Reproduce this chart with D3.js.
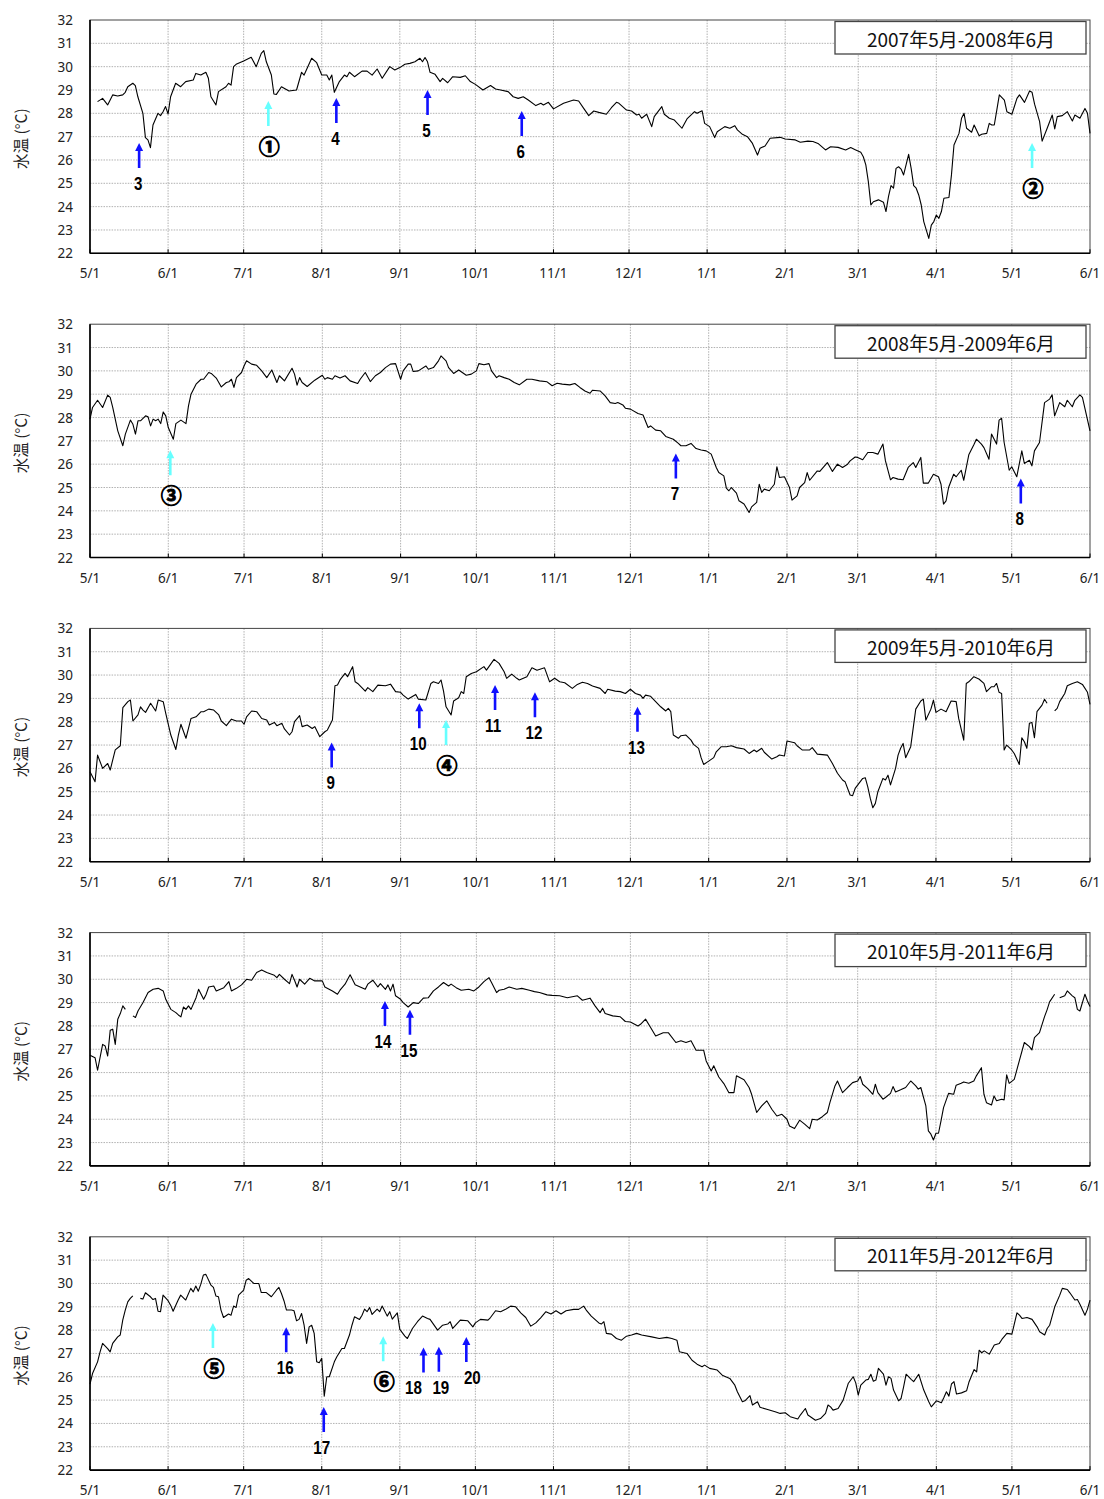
<!DOCTYPE html>
<html><head><meta charset="utf-8">
<script src="https://cdn.jsdelivr.net/npm/d3@7"></script>
<style>body{margin:0;background:#fff}</style>
</head><body>
<svg id="c" width="1104" height="1499"></svg>
<script>
// ---------------- DATA ----------------
const startYears = [2007, 2008, 2009, 2010, 2011];
const panelTitles = ["2007年5月-2008年6月","2008年5月-2009年6月","2009年5月-2010年6月","2010年5月-2011年6月","2011年5月-2012年6月"];
const tempTicks = [22,23,24,25,26,27,28,29,30,31,32];
const yTitle = "水温 (°C)";

// [days since 5/1, water temperature °C]; null = missing
const wt2007 = [[3,28.50],[5,28.64],[7,28.36],[9,28.79],[11,28.74],[13,28.79],[14,28.90],[15,29.14],[17,29.29],[18,29.19],[19,28.71],[21,28.00],[22,26.96],[23,26.86],[24,26.53],[25,27.50],[27,28.00],[28,27.90],[29,28.07],[30,28.29],[31,27.97],[32,28.71],[34,29.29],[36,29.14],[38,29.36],[41,29.43],[42,29.71],[44,29.64],[46,29.76],[47,29.50],[48,28.71],[50,28.36],[51,28.93],[54,29.14],[55,29.29],[56,29.21],[57,30.00],[58,30.10],[61,30.24],[64,30.40],[66,30.00],[68,30.57],[69,30.69],[70,30.21],[72,29.64],[73,28.83],[74,28.81],[76,29.14],[79,28.96],[82,29.00],[84,29.76],[85,29.64],[88,30.36],[90,30.17],[92,29.64],[94,29.64],[95,29.43],[96,29.64],[97,28.90],[99,29.36],[101,29.64],[102,29.57],[103,29.76],[105,29.57],[108,29.81],[110,29.81],[112,29.64],[114,29.90],[116,29.50],[119,30.00],[121,29.86],[123,29.96],[125,30.10],[127,30.14],[129,30.21],[131,30.36],[132,30.21],[133,30.39],[134,30.21],[135,29.76],[137,29.67],[139,29.36],[140,29.50],[142,29.31],[144,29.57],[147,29.54],[149,29.61],[151,29.36],[153,29.24],[156,29.00],[159,29.19],[161,29.04],[163,29.00],[166,28.93],[168,28.71],[170,28.64],[172,28.71],[174,28.57],[177,28.33],[179,28.43],[180,28.36],[182,28.47],[184,28.19],[188,28.43],[192,28.57],[194,28.53],[196,28.21],[198,27.90],[200,28.10],[202,28.04],[205,27.96],[207,28.24],[209,28.47],[210,28.43],[213,28.14],[215,28.10],[217,27.93],[218,27.96],[219,27.79],[221,27.96],[223,27.43],[224,27.86],[227,28.29],[228,27.96],[230,27.79],[232,27.71],[235,27.36],[237,27.76],[240,28.07],[241,28.00],[243,28.11],[244,27.57],[246,27.43],[248,26.96],[249,27.21],[252,27.43],[254,27.36],[256,27.47],[257,27.29],[259,27.10],[261,27.00],[263,26.71],[265,26.21],[266,26.50],[268,26.60],[270,26.93],[274,26.97],[276,26.90],[280,26.86],[282,26.76],[285,26.81],[287,26.79],[289,26.71],[292,26.43],[294,26.57],[297,26.54],[300,26.43],[302,26.53],[304,26.43],[306,26.33],[307,26.14],[308,25.79],[309,25.07],[310,24.07],[311,24.21],[313,24.29],[315,24.19],[316,23.79],[317,24.43],[318,24.90],[319,24.79],[320,25.64],[321,25.71],[322,25.61],[323,25.36],[325,26.24],[326,25.64],[327,24.90],[328,24.79],[329,24.50],[330,24.07],[331,23.36],[333,22.64],[334,23.21],[335,23.36],[336,23.64],[337,23.50],[338,23.79],[339,24.36],[341,24.39],[342,25.36],[343,26.64],[345,27.14],[346,27.79],[347,28.00],[348,27.36],[350,27.19],[351,27.50],[353,27.04],[354,27.10],[356,27.14],[357,27.57],[358,27.50],[359,27.50],[360,28.14],[361,28.79],[363,28.57],[364,28.07],[366,27.96],[368,28.64],[369,28.79],[371,28.47],[373,28.96],[374,28.90],[375,28.39],[377,27.64],[378,26.81],[380,27.36],[382,27.93],[383,27.33],[384,27.86],[386,27.90],[388,28.07],[390,27.67],[391,27.93],[393,27.79],[395,28.21],[396,28.00],[397,27.14]];

const wt2008 = [[0,27.93],[1,28.43],[3,28.74],[5,28.43],[7,28.96],[8,28.86],[9,28.43],[11,27.43],[13,26.79],[14,27.29],[16,27.89],[17,27.71],[18,27.29],[19,27.86],[20,27.86],[22,28.07],[23,28.03],[24,27.64],[25,27.93],[26,27.86],[27,27.93],[28,27.74],[29,28.24],[30,28.07],[31,27.57],[33,27.07],[34,27.74],[36,27.89],[38,27.74],[39,28.50],[40,29.00],[42,29.43],[44,29.64],[45,29.64],[47,29.93],[48,29.89],[50,29.69],[52,29.31],[54,29.50],[55,29.53],[56,29.64],[57,29.29],[58,29.71],[60,29.93],[61,30.21],[62,30.43],[64,30.29],[66,30.24],[68,30.00],[70,29.71],[72,30.04],[74,29.50],[75,29.79],[77,29.57],[80,30.11],[81,29.86],[82,29.39],[83,29.71],[84,29.50],[86,29.33],[89,29.60],[92,29.81],[93,29.64],[94,29.71],[96,29.64],[97,29.79],[99,29.69],[101,29.79],[103,29.57],[106,29.46],[107,29.64],[109,29.93],[111,29.54],[113,29.79],[115,29.93],[117,30.14],[119,30.29],[121,30.31],[123,29.64],[124,30.00],[126,30.29],[127,30.29],[128,29.97],[130,30.00],[133,30.21],[134,30.07],[136,30.14],[138,30.43],[139,30.64],[141,30.43],[142,30.14],[144,29.89],[146,30.04],[149,29.81],[151,29.86],[153,30.00],[154,30.31],[156,30.26],[158,30.31],[159,30.00],[161,29.71],[162,29.79],[164,29.71],[166,29.64],[168,29.50],[170,29.40],[173,29.64],[175,29.64],[178,29.57],[181,29.53],[183,29.36],[185,29.47],[187,29.43],[190,29.40],[192,29.46],[194,29.29],[196,29.14],[198,29.04],[199,29.17],[202,29.14],[204,28.93],[206,28.64],[208,28.60],[209,28.64],[211,28.54],[212,28.40],[214,28.36],[217,28.17],[219,28.11],[221,27.57],[222,27.64],[224,27.46],[226,27.43],[228,27.19],[231,27.07],[233,26.89],[234,26.79],[236,26.79],[238,26.89],[240,26.67],[242,26.61],[244,26.57],[246,26.43],[248,25.86],[249,25.64],[251,25.50],[252,24.97],[253,24.86],[254,25.00],[256,24.76],[257,24.43],[259,24.29],[261,23.93],[262,24.17],[264,24.36],[265,25.14],[266,24.79],[267,24.93],[269,24.86],[271,25.14],[272,25.89],[273,25.43],[275,25.46],[277,25.00],[278,24.46],[280,24.64],[281,25.00],[283,25.21],[284,25.64],[285,25.31],[288,25.71],[289,25.69],[292,26.07],[294,25.69],[296,26.00],[298,25.86],[300,26.00],[301,26.14],[303,26.31],[304,26.29],[306,26.19],[308,26.50],[310,26.50],[312,26.43],[314,26.86],[315,26.14],[317,25.33],[318,25.43],[320,25.36],[322,25.33],[324,25.86],[326,26.07],[327,25.86],[329,26.29],[330,25.19],[332,25.19],[334,25.57],[336,25.46],[337,25.14],[338,24.29],[339,24.43],[340,25.00],[342,25.57],[343,25.46],[345,25.74],[346,25.31],[348,26.40],[350,26.83],[351,27.07],[353,26.86],[354,26.71],[356,26.21],[357,27.29],[359,26.86],[360,27.89],[361,27.97],[362,26.93],[364,25.74],[365,25.89],[367,25.46],[369,26.57],[370,26.03],[372,26.17],[373,25.93],[374,26.57],[376,26.93],[378,28.64],[380,28.79],[381,28.97],[382,28.07],[384,28.64],[386,28.46],[387,28.74],[389,28.46],[390,28.74],[392,28.97],[393,28.86],[396,27.43]];

const wt2009 = [[0,25.86],[2,25.43],[3,26.57],[5,26.00],[7,26.21],[8,25.93],[10,26.79],[12,26.97],[13,28.60],[15,28.86],[16,28.93],[17,28.03],[19,28.29],[20,28.64],[21,28.50],[22,28.40],[24,28.79],[26,28.46],[27,28.93],[29,28.86],[30,28.36],[32,27.43],[34,26.81],[35,27.43],[36,27.89],[38,27.29],[40,28.14],[42,28.21],[44,28.43],[45,28.43],[47,28.54],[49,28.50],[51,28.29],[52,28.03],[54,27.83],[56,28.11],[58,28.03],[60,28.03],[61,27.89],[62,28.21],[64,28.46],[66,28.43],[68,28.14],[70,28.07],[71,27.86],[73,27.97],[74,27.83],[76,27.93],[77,27.69],[79,27.43],[80,27.57],[81,28.00],[83,28.26],[84,27.79],[86,27.86],[88,27.71],[89,27.79],[91,27.36],[93,27.57],[94,27.64],[96,28.07],[97,29.54],[98,29.57],[99,29.79],[101,30.07],[102,29.93],[104,30.36],[105,29.71],[106,29.64],[109,29.31],[110,29.46],[112,29.29],[114,29.57],[117,29.54],[119,29.61],[121,29.29],[123,29.26],[124,29.14],[126,28.97],[129,29.17],[130,28.97],[133,28.93],[135,29.64],[136,29.71],[138,29.64],[139,29.79],[140,29.31],[141,28.64],[143,28.29],[144,28.89],[146,29.03],[147,29.29],[148,29.21],[149,29.93],[151,30.07],[153,30.14],[156,30.36],[157,30.21],[160,30.67],[162,30.50],[164,30.14],[165,29.86],[167,30.04],[169,29.86],[170,29.79],[173,29.93],[175,30.31],[177,30.21],[180,30.31],[182,29.71],[184,29.86],[186,29.71],[188,29.67],[191,29.43],[193,29.60],[195,29.69],[197,29.64],[199,29.53],[202,29.43],[204,29.21],[205,29.39],[208,29.31],[210,29.29],[212,29.21],[214,29.39],[216,29.21],[218,29.14],[219,29.00],[220,29.14],[222,29.09],[224,28.86],[226,28.64],[228,28.46],[229,28.57],[230,28.43],[231,27.43],[233,27.29],[234,27.40],[236,27.43],[238,27.21],[239,27.03],[241,26.86],[242,26.46],[243,26.17],[245,26.31],[247,26.46],[248,26.71],[250,26.93],[252,26.93],[254,26.97],[256,26.89],[259,26.83],[261,26.64],[263,26.79],[264,26.71],[266,26.86],[267,26.69],[270,26.40],[272,26.50],[273,26.57],[275,26.53],[276,27.17],[279,27.10],[280,26.97],[282,26.79],[285,26.79],[286,26.89],[288,26.61],[292,26.57],[294,26.21],[296,25.79],[298,25.50],[299,25.43],[301,24.86],[302,24.83],[303,25.14],[306,25.57],[307,25.60],[308,25.21],[309,24.71],[310,24.31],[311,24.50],[312,25.00],[314,25.57],[315,25.50],[316,25.71],[317,25.29],[319,26.00],[320,26.57],[321,26.86],[322,27.07],[323,26.46],[325,26.93],[327,28.54],[329,28.89],[330,28.97],[331,28.07],[333,28.54],[334,28.93],[335,28.40],[337,28.54],[339,28.43],[341,28.89],[343,28.86],[344,28.14],[346,27.21],[347,29.64],[348,29.71],[350,29.93],[352,29.83],[354,29.64],[355,29.29],[357,29.50],[358,29.50],[359,29.64],[360,29.26],[361,29.21],[362,26.79],[363,27.00],[365,26.79],[366,26.64],[368,26.17],[369,27.31],[370,27.14],[371,26.86],[372,27.93],[373,27.97],[374,27.31],[375,28.43],[377,28.71],[378,28.96],[379,28.79],[381,null],[382,28.46],[383,28.57],[384,28.86],[386,29.21],[387,29.54],[389,29.64],[391,29.71],[393,29.60],[395,29.26],[396,28.74]];

const wt2010 = [[0,26.74],[2,26.64],[3,26.10],[5,27.21],[6,27.14],[7,26.71],[8,27.81],[9,27.86],[10,27.21],[11,28.29],[12,28.53],[13,28.86],[14,28.71],[15,null],[17,28.43],[18,28.36],[19,28.64],[21,29.00],[23,29.43],[25,29.57],[27,29.61],[29,29.50],[30,29.14],[32,28.71],[34,28.57],[35,28.47],[36,28.39],[37,28.81],[38,28.71],[39,28.86],[40,28.71],[42,29.21],[43,29.57],[45,29.14],[46,29.36],[47,29.67],[49,29.71],[50,29.50],[53,29.64],[55,29.90],[56,29.50],[58,29.61],[60,29.76],[62,30.00],[64,29.96],[66,30.29],[68,30.40],[70,30.29],[73,30.17],[74,30.07],[75,30.21],[77,30.00],[79,29.81],[80,30.21],[81,29.96],[82,29.67],[83,30.00],[85,29.79],[87,30.04],[89,29.93],[92,29.93],[93,29.67],[96,29.50],[98,29.36],[99,29.53],[101,29.79],[103,30.19],[105,29.76],[107,29.67],[109,29.57],[110,29.79],[112,29.96],[114,29.67],[115,29.81],[117,29.57],[118,29.76],[119,29.50],[120,29.79],[121,29.29],[123,29.14],[124,29.00],[126,28.81],[128,29.00],[130,28.96],[132,29.19],[134,29.21],[136,29.50],[138,29.67],[140,29.86],[142,29.71],[143,29.79],[145,29.64],[147,29.53],[150,29.57],[152,29.50],[154,29.67],[156,29.90],[158,30.07],[159,29.86],[161,29.43],[162,29.53],[164,29.57],[166,29.67],[169,29.57],[171,29.61],[174,29.53],[176,29.47],[178,29.43],[181,29.33],[183,29.31],[186,29.29],[189,29.21],[193,29.29],[195,29.10],[198,29.19],[200,28.86],[202,28.57],[203,28.76],[204,28.53],[207,28.43],[210,28.39],[212,28.19],[214,28.17],[217,28.00],[218,28.07],[220,28.29],[222,27.93],[224,27.57],[227,27.71],[229,27.71],[232,27.29],[234,27.36],[236,27.29],[238,27.36],[240,26.96],[243,26.96],[244,26.50],[246,26.07],[247,26.29],[249,25.81],[251,25.53],[253,25.14],[255,25.14],[256,25.86],[259,25.69],[261,25.36],[262,25.07],[264,24.29],[266,24.57],[268,24.79],[270,24.43],[272,24.14],[274,24.21],[276,24.00],[277,23.71],[279,23.60],[281,23.96],[283,23.79],[285,23.60],[286,24.00],[288,23.97],[290,24.11],[292,24.29],[293,24.71],[295,25.43],[296,25.64],[298,25.14],[300,25.36],[302,25.57],[304,25.64],[305,25.83],[306,25.50],[308,25.31],[310,25.07],[311,25.50],[312,25.14],[314,24.86],[315,24.93],[317,25.11],[318,25.40],[319,25.17],[321,25.26],[323,25.36],[325,25.64],[327,25.43],[328,25.29],[329,25.36],[331,24.57],[332,23.50],[333,23.36],[334,23.11],[335,23.40],[336,23.40],[337,23.93],[338,24.50],[340,25.11],[342,25.07],[343,25.46],[345,25.54],[346,25.60],[348,25.54],[350,25.64],[351,25.86],[353,26.21],[354,25.07],[355,24.71],[357,24.61],[358,25.00],[359,24.79],[361,24.86],[362,24.83],[363,25.90],[364,25.54],[366,25.71],[368,26.50],[370,27.29],[372,27.11],[373,26.97],[374,27.50],[376,27.71],[378,28.40],[379,28.69],[380,29.03],[382,29.36],[383,null],[384,29.21],[386,29.29],[387,29.50],[389,29.29],[390,29.21],[391,28.71],[392,28.64],[394,29.36],[395,29.07],[396,28.83]];

const wt2011 = [[0,25.69],[1,26.14],[3,26.64],[4,27.07],[5,27.43],[7,27.21],[8,27.07],[9,27.43],[11,27.71],[12,27.79],[13,28.43],[14,28.86],[15,29.21],[16,29.36],[17,29.47],[18,null],[20,29.36],[21,29.33],[22,29.60],[24,29.43],[25,29.31],[26,29.36],[27,28.81],[28,28.79],[29,29.50],[31,29.26],[32,29.07],[33,28.81],[35,29.29],[36,29.50],[38,29.29],[40,29.79],[41,29.64],[42,29.89],[43,29.67],[44,29.97],[45,30.36],[46,30.39],[48,29.93],[49,29.83],[50,29.46],[51,29.43],[52,28.86],[53,28.54],[55,28.69],[56,28.64],[57,29.03],[58,28.97],[59,29.50],[61,29.71],[62,30.14],[63,30.21],[65,30.00],[67,30.00],[68,29.61],[70,29.61],[72,29.43],[74,29.71],[75,29.83],[76,29.57],[77,29.26],[78,28.86],[80,28.86],[81,28.83],[82,28.40],[83,28.46],[84,28.71],[85,28.21],[86,27.43],[87,28.14],[88,28.21],[89,27.86],[90,26.64],[91,26.60],[92,26.79],[93,25.17],[94,26.00],[95,26.00],[97,26.64],[98,26.86],[100,27.21],[101,27.21],[103,27.79],[104,28.21],[105,28.57],[107,28.46],[108,28.64],[109,28.90],[110,28.79],[111,28.97],[112,28.67],[114,28.90],[115,28.79],[116,29.03],[118,28.60],[119,28.79],[120,28.47],[122,28.74],[123,28.03],[125,27.74],[126,27.64],[128,28.07],[130,28.36],[132,28.60],[134,28.50],[135,28.46],[138,28.00],[140,28.21],[142,28.26],[143,28.36],[144,28.07],[146,28.31],[147,28.43],[150,28.40],[152,28.14],[153,28.31],[155,28.46],[158,28.43],[159,28.54],[161,28.83],[163,28.79],[165,28.89],[167,29.03],[169,29.00],[171,28.74],[173,28.54],[175,28.17],[177,28.31],[179,28.54],[181,28.79],[183,28.69],[185,28.83],[187,28.69],[189,28.83],[192,28.89],[194,28.89],[196,29.03],[197,28.86],[199,28.60],[202,28.31],[203,28.26],[204,28.36],[205,27.86],[207,27.83],[209,27.64],[211,27.57],[213,27.74],[215,27.79],[217,27.86],[219,27.79],[223,27.71],[226,27.64],[229,27.69],[231,27.64],[233,27.57],[234,27.07],[237,27.00],[239,26.71],[241,26.54],[243,26.43],[244,26.50],[246,26.36],[249,26.29],[251,26.07],[254,25.93],[256,25.64],[257,25.36],[259,24.93],[260,24.97],[262,25.19],[263,24.79],[265,24.93],[266,24.69],[269,24.60],[272,24.50],[274,24.43],[276,24.46],[278,24.29],[281,24.19],[282,24.36],[284,24.64],[285,24.36],[288,24.14],[290,24.21],[292,24.43],[293,24.79],[294,24.71],[295,24.57],[297,24.64],[299,25.00],[301,25.71],[303,26.00],[304,25.74],[305,25.21],[306,25.64],[308,25.86],[309,25.89],[310,26.11],[311,25.81],[312,25.86],[313,26.36],[315,26.11],[316,25.64],[317,26.00],[318,25.93],[319,25.43],[321,24.97],[322,25.07],[323,25.57],[324,26.11],[326,25.89],[327,25.79],[329,26.11],[331,25.43],[333,24.93],[334,24.71],[336,24.97],[338,24.89],[339,25.11],[340,25.36],[341,25.17],[342,25.69],[343,25.79],[344,25.26],[346,25.31],[348,25.40],[349,25.79],[351,26.31],[352,26.21],[353,27.14],[354,27.03],[355,27.11],[357,26.97],[359,27.36],[361,27.43],[362,27.60],[364,27.86],[366,27.83],[368,28.74],[369,28.64],[370,28.50],[372,28.54],[374,28.46],[376,28.14],[377,27.93],[379,27.79],[380,28.07],[381,28.21],[383,29.00],[385,29.50],[386,29.79],[388,29.74],[389,29.60],[391,29.29],[392,29.31],[393,29.11],[395,28.64],[396,28.90],[397,29.29]];

// arrow annotations: [days since 5/1, arrow-tip temperature, label, type] (type "b" = blue, "c" = cyan)
const arrows2007 = [[19.5,26.73,"3","b"],[70.8,28.53,"①","c"],[97.8,28.66,"4","b"],[134,29.0,"5","b"],[171.4,28.1,"6","b"],[374,26.73,"②","c"]];
const arrows2008 = [[31.8,26.6,"③","c"],[232,26.46,"7","b"],[368.6,25.39,"8","b"]];
const arrows2009 = [[95.7,27.11,"9","b"],[130.4,28.79,"10","b"],[141,28.07,"④","c"],[160.4,29.57,"11","b"],[176.2,29.26,"12","b"],[216.8,28.64,"13","b"]];
const arrows2010 = [[116.8,29.07,"14","b"],[126.7,28.69,"15","b"]];
const arrows2011 = [[48.8,28.31,"⑤","c"],[77.9,28.12,"16","b"],[92.8,24.71,"17","b"],[116.4,27.74,"⑥","c"],[132.4,27.26,"18","b"],[138.5,27.29,"19","b"],[149.4,27.71,"20","b"]];

const seriesList = [wt2007, wt2008, wt2009, wt2010, wt2011];
const arrowList = [arrows2007, arrows2008, arrows2009, arrows2010, arrows2011];

// ---------------- LAYOUT ----------------
const TOP0 = 20, STEP = 304.2, PH = 233.3, PL = 90, PR = 1090;
const arrowColor = {b: "#1010ff", c: "#66ffff"};
// small horizontal nudges of some arrow labels (pixels), as placed in the original figure
const labelNudge = {"18": -10, "19": 2, "20": 6, "17": -2, "11": -2, "14": -2};
const svg = d3.select("#c");
const fmt = d3.utcFormat("%-m/%-d");
const toDate = (start, d) => new Date(+start + d * 864e5);

startYears.forEach((yr, i) => {
  const top = TOP0 + i * STEP, bottom = top + PH;
  const start = new Date(Date.UTC(yr, 4, 1)), end = new Date(Date.UTC(yr + 1, 5, 1));
  const x = d3.scaleUtc().domain([start, end]).range([PL, PR]);
  const y = d3.scaleLinear().domain([22, 32]).range([bottom, top]);
  const g = svg.append("g");
  const months = d3.utcMonth.range(start, toDate(end, 1));

  // horizontal grid
  g.selectAll(null).data(tempTicks.filter(t => t > 22 && t < 32)).join("line")
    .attr("x1", PL).attr("x2", PR).attr("y1", d => y(d)).attr("y2", d => y(d))
    .attr("stroke", "#a8a8a8").attr("stroke-width", 0.9).attr("stroke-dasharray", "1.5,1.2");
  // vertical grid
  g.selectAll(null).data(months.filter(m => +m > +start && +m < +end)).join("line")
    .attr("x1", d => x(d)).attr("x2", d => x(d)).attr("y1", top).attr("y2", bottom)
    .attr("stroke", "#a8a8a8").attr("stroke-width", 0.9).attr("stroke-dasharray", "1.5,1.2");

  // frame
  g.append("rect").attr("x", PL).attr("y", top).attr("width", PR - PL).attr("height", PH)
    .attr("fill", "none").attr("stroke", "#444").attr("stroke-width", 1);
  g.append("line").attr("x1", PL).attr("x2", PL).attr("y1", top).attr("y2", bottom).attr("stroke", "#000").attr("stroke-width", 1.6);
  g.append("line").attr("x1", PL).attr("x2", PR).attr("y1", bottom).attr("y2", bottom).attr("stroke", "#000").attr("stroke-width", 1.6);

  // x ticks (inward) and labels
  g.selectAll(null).data(months).join("line")
    .attr("x1", d => x(d)).attr("x2", d => x(d)).attr("y1", bottom).attr("y2", bottom - 4)
    .attr("stroke", "#000").attr("stroke-width", 1);
  g.selectAll(null).data(months).join("text")
    .attr("x", d => x(d)).attr("y", bottom + 20).attr("text-anchor", "middle").attr("dominant-baseline", "central")
    .attr("font-family", "'Noto Sans', sans-serif").attr("font-size", 13.5).attr("fill", "#222")
    .text(d => fmt(d));

  // y labels
  g.selectAll(null).data(tempTicks).join("text")
    .attr("x", 73).attr("y", d => y(d)).attr("text-anchor", "end").attr("dominant-baseline", "central")
    .attr("font-family", "'Noto Sans', sans-serif").attr("font-size", 13.5).attr("fill", "#222")
    .text(d => d);

  // y title
  g.append("text").attr("transform", `translate(20,${top + PH / 2 + 2}) rotate(-90)`)
    .attr("text-anchor", "middle").attr("dominant-baseline", "central")
    .attr("font-family", "'Noto Sans CJK JP', sans-serif").attr("font-size", 15.5).attr("fill", "#222")
    .text(yTitle);

  // series line
  const line = d3.line().defined(d => d[1] != null)
    .x(d => x(toDate(start, d[0]))).y(d => y(d[1]));
  g.append("path").datum(seriesList[i]).attr("d", line)
    .attr("fill", "none").attr("stroke", "#000").attr("stroke-width", 1.1).attr("stroke-linejoin", "round");

  // legend box
  g.append("rect").attr("x", 835).attr("y", top + 1.5).attr("width", 251).attr("height", 32.5)
    .attr("fill", "#fff").attr("stroke", "#444").attr("stroke-width", 1.3);
  g.append("text").attr("x", 961).attr("y", top + 18).attr("text-anchor", "middle").attr("dominant-baseline", "central")
    .attr("font-family", "'Noto Sans CJK JP', sans-serif").attr("font-size", 19).attr("fill", "#111")
    .text(panelTitles[i]);

  // arrows
  const ag = g.selectAll(null).data(arrowList[i]).join("g")
    .attr("transform", d => `translate(${x(toDate(start, d[0]))},${y(d[1])})`);
  ag.append("path")
    .attr("d", "M0,0 L4,8 L1.3,8 L1.3,25 L-1.3,25 L-1.3,8 L-4,8 Z")
    .attr("fill", d => arrowColor[d[3]]);
  ag.append("text")
    .attr("transform", d => d[3] === "c"
      ? `translate(1,44)`
      : `translate(${(labelNudge[d[2]] || -1)},41) scale(0.82,1)`)
    .attr("text-anchor", "middle").attr("dominant-baseline", "central")
    .attr("font-family", d => d[3] === "c" ? "'Noto Sans CJK JP', sans-serif" : "'Liberation Sans', Arial, sans-serif")
    .attr("font-weight", "bold").attr("font-size", d => d[3] === "c" ? 21 : 18.5).attr("fill", "#000")
    .attr("stroke", d => d[3] === "c" ? "#000" : "none").attr("stroke-width", 0.9)
    .text(d => d[2]);
});
</script>
</body></html>
